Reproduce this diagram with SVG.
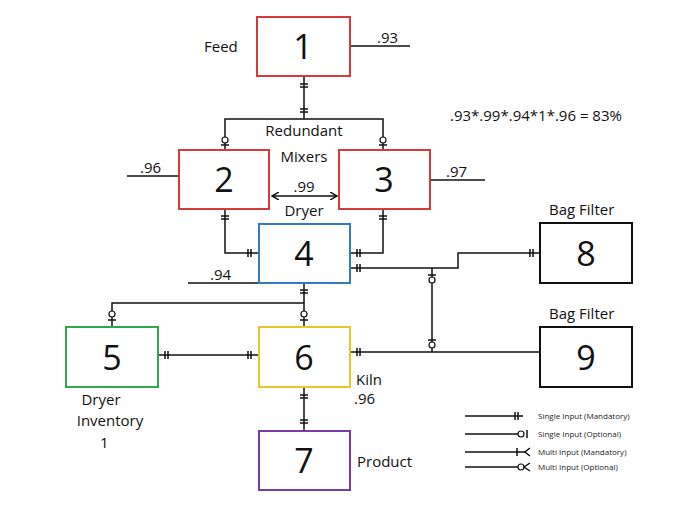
<svg xmlns="http://www.w3.org/2000/svg" width="699" height="508" viewBox="0 0 699 508">
<style>
.b{fill:#fff;stroke-width:2}
.n{font-family:"Open Sans","Liberation Sans",sans-serif;font-size:34px;text-anchor:middle;fill:#111}
.t{font-family:"Open Sans","Liberation Sans",sans-serif;font-size:15px;fill:#111}
.s{font-family:"Open Sans","Liberation Sans",sans-serif;font-size:8px;fill:#222}
.c line,.c path,.c polyline{stroke:#111;stroke-width:1.5;fill:none}
.c circle{stroke:#111;stroke-width:1.2;fill:#fff}
</style>
<defs>
<marker id="ah" markerWidth="8" markerHeight="8" refX="7" refY="4" orient="auto-start-reverse" markerUnits="userSpaceOnUse"><path d="M0,0 L7,4 L0,8" fill="none" stroke="#111" stroke-width="1.5"/></marker>
</defs>
<rect width="699" height="508" fill="#fff"/>
<g class="c" id="connectors">
<line x1="304" y1="76" x2="304" y2="119"/>
<path d="M300,84h8M300,87h8M300,109h8M300,112h8"/>
<polyline points="225,150 225,119 383,119 383,150"/>
<circle cx="225" cy="140" r="3"/><path d="M221,145h8"/>
<circle cx="383" cy="140" r="3"/><path d="M379,145h8"/>
<polyline points="225,209 225,253 259,253"/>
<path d="M221,216h8M221,219h8M248,249v8M251,249v8"/>
<polyline points="383,209 383,253 350,253"/>
<path d="M379,216h8M379,219h8M357,249v8M360,249v8"/>
<polyline points="350,268 458,268 458,253 540,253"/>
<path d="M357,264v8M360,264v8M530,249v8M533,249v8"/>
<line x1="432" y1="268" x2="432" y2="352"/>
<circle cx="432" cy="280" r="3"/><path d="M428,275h8"/>
<circle cx="432" cy="345" r="3"/><path d="M428,340h8"/>
<line x1="350" y1="352" x2="540" y2="352"/>
<path d="M357,348v8M360,348v8"/>
<polyline points="304,283 304,303"/>
<path d="M300,290h8M300,293h8"/>
<polyline points="112,327 112,303 304,303 304,327"/>
<circle cx="112" cy="314" r="3"/><path d="M108,320h8"/>
<circle cx="304" cy="314" r="3"/><path d="M300,320h8"/>
<line x1="158" y1="355" x2="259" y2="355"/>
<path d="M165,351v8M168,351v8M248,351v8M251,351v8"/>
<line x1="304" y1="387" x2="304" y2="431"/>
<path d="M300,395h8M300,398h8M300,420h8M300,423h8"/>
<line x1="350" y1="46" x2="410" y2="46"/>
<line x1="127" y1="176" x2="179" y2="176"/>
<line x1="430" y1="180" x2="485" y2="180"/>
<line x1="188" y1="283" x2="259" y2="283"/>
<line x1="272" y1="196" x2="337" y2="196" marker-start="url(#ah)" marker-end="url(#ah)"/>
<line x1="465" y1="416" x2="523" y2="416"/><path d="M515,412v8M518,412v8"/>
<line x1="465" y1="434" x2="518" y2="434"/><circle cx="521" cy="434" r="3"/><path d="M527,430v8"/>
<line x1="465" y1="452" x2="525" y2="452"/><path d="M517,448v8M530,448l-5,4l5,4"/>
<line x1="465" y1="467" x2="518" y2="467"/><circle cx="521" cy="467" r="3"/><path d="M530,463l-6,4l6,4"/>
</g>
<g id="n1"><rect class="b" x="257" y="17" width="93" height="59" stroke="#d63a3a"/><text class="n" x="303" y="59">1</text></g>
<g id="n2"><rect class="b" x="179" y="150" width="90" height="59" stroke="#d63a3a"/><text class="n" x="224" y="192">2</text></g>
<g id="n3"><rect class="b" x="339" y="150" width="91" height="59" stroke="#d63a3a"/><text class="n" x="384" y="192">3</text></g>
<g id="n4"><rect class="b" x="259" y="224" width="91" height="59" stroke="#2f7cc4"/><text class="n" x="304" y="266">4</text></g>
<g id="n5"><rect class="b" x="66" y="327" width="92" height="60" stroke="#2fa84f"/><text class="n" x="112" y="370">5</text></g>
<g id="n6"><rect class="b" x="259" y="327" width="91" height="60" stroke="#e8c72a"/><text class="n" x="304" y="370">6</text></g>
<g id="n7"><rect class="b" x="259" y="431" width="91" height="59" stroke="#7a3aa8"/><text class="n" x="304" y="473">7</text></g>
<g id="n8"><rect class="b" x="540" y="223" width="92" height="60" stroke="#111"/><text class="n" x="586" y="266">8</text></g>
<g id="n9"><rect class="b" x="540" y="327" width="92" height="60" stroke="#111"/><text class="n" x="586" y="370">9</text></g>
<g id="labels">
<text class="t" x="204" y="52">Feed</text>
<text class="t" x="377" y="43" font-size="13">.93</text>
<text class="t" x="304" y="136" text-anchor="middle">Redundant</text>
<text class="t" x="304" y="162" text-anchor="middle">Mixers</text>
<text class="t" x="140" y="173" font-size="13">.96</text>
<text class="t" x="446" y="177" font-size="13">.97</text>
<text class="t" x="304" y="192" text-anchor="middle" font-size="13">.99</text>
<text class="t" x="304" y="216" text-anchor="middle">Dryer</text>
<text class="t" x="210" y="280" font-size="13">.94</text>
<text class="t" x="450" y="121" font-size="13">.93*.99*.94*1*.96 =   83%</text>
<text class="t" x="549" y="215">Bag Filter</text>
<text class="t" x="549" y="319">Bag Filter</text>
<text class="t" x="356" y="385">Kiln</text>
<text class="t" x="354" y="404" font-size="13">.96</text>
<text class="t" x="101" y="405" text-anchor="middle">Dryer</text>
<text class="t" x="110" y="426" text-anchor="middle">Inventory</text>
<text class="t" x="100" y="448" font-size="13">1</text>
<text class="t" x="357" y="467">Product</text>
<text class="s" x="538" y="419">Single Input (Mandatory)</text>
<text class="s" x="538" y="437">Single Input (Optional)</text>
<text class="s" x="538" y="455">Multi Input (Mandatory)</text>
<text class="s" x="538" y="470">Multi Input (Optional)</text>
</g>
</svg>
